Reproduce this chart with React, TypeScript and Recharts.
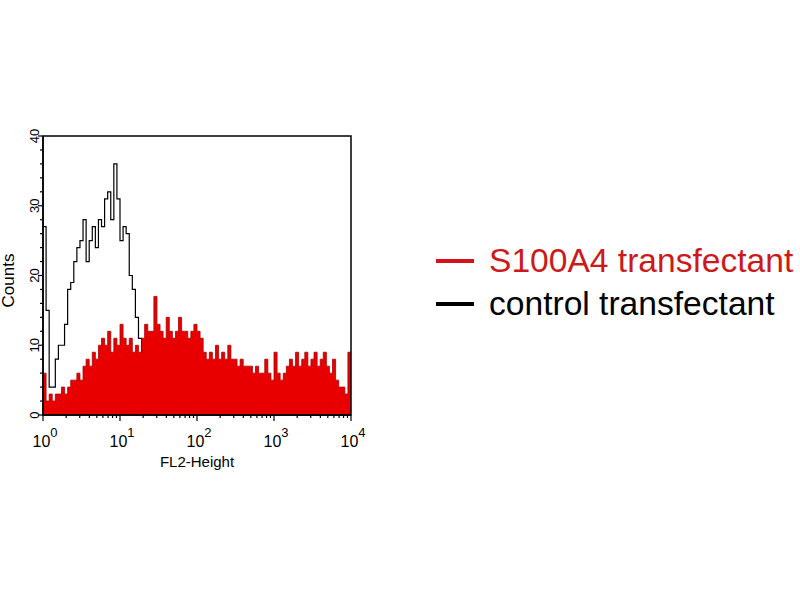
import { ComposedChart, Area, Line, XAxis, YAxis, ReferenceArea, Legend } from "recharts";

// 100 log-spaced channels over 4 decades (25 per decade)
const channelsPerDecade = 25;

const s100a4Counts = [
  6, 2, 3, 2, 3, 3, 4, 3, 4, 5,
  5, 6, 5, 7, 8, 7, 9, 8, 10, 11,
  10, 12, 9, 11, 10, 13, 11, 10, 11, 9,
  10, 9, 11, 13, 12, 12, 17, 13, 12, 11,
  14, 12, 11, 12, 14, 12, 12, 11, 12, 13,
  12, 11, 9, 8, 9, 8, 10, 8, 9, 8,
  10, 8, 8, 7, 8, 7, 7, 7, 6, 7,
  6, 6, 8, 6, 5, 9, 6, 5, 6, 7,
  8, 7, 9, 7, 8, 9, 7, 8, 9, 7,
  8, 9, 7, 6, 8, 5, 4, 4, 3, 9,
];

const controlCounts = [
  27, 15, 4, 4, 8, 10, 10, 13, 18, 19,
  22, 24, 25, 28, 22, 25, 27, 24, 28, 27,
  31, 32, 28, 36, 31, 25, 27, 26, 20, 18,
  14, 11, 8, 6, 5, 4, 3, 3, 2, 2,
  2, 1, 1, 1, 1, 1, 1, 0, 1, 0,
  0, 0, 0, 0, 0, 0, 0, 0, 0, 0,
  0, 0, 0, 0, 0, 0, 0, 0, 0, 0,
  0, 0, 0, 0, 0, 0, 0, 0, 0, 0,
  0, 0, 0, 0, 0, 0, 0, 0, 0, 0,
  0, 0, 0, 0, 0, 0, 0, 0, 0, 0,
];

const seriesNames = ["S100A4 transfectant", "control transfectant"];
const fillRed = "#e80000";
const legendLineColors = ["#d4141c", "#000000"];
const legendTextColors = ["#cc1a1a", "#000000"];

const yTicks = [0, 2, 4, 6, 8, 10, 12, 14, 16, 18, 20, 22, 24, 26, 28, 30, 32, 34, 36, 38, 40];
const decades = [1, 10, 100, 1000, 10000];

const xTicks: number[] = [];
decades.forEach((d, i) => {
  if (i === decades.length - 1) {
    xTicks.push(d);
    return;
  }
  for (let m = 1; m <= 9; m++) xTicks.push(d * m);
});

// bin edges; last edge repeats the final channel so the step reaches 10^4
const data = s100a4Counts.map((v, i) => ({
  x: Math.pow(10, i / channelsPerDecade),
  s100a4: v,
  control: controlCounts[i],
}));
data.push({
  x: 10000,
  s100a4: s100a4Counts[s100a4Counts.length - 1],
  control: controlCounts[controlCounts.length - 1],
});

const font = '"Liberation Sans", Arial, sans-serif';

const XTick = (props: any) => {
  const { x, y, payload } = props;
  const v = payload.value;
  const exp = Math.round(Math.log10(v));
  const major = Math.abs(Math.pow(10, exp) - v) < 1e-6;
  return (
    <g>
      <line x1={x} x2={x} y1={y} y2={y + (major ? 6 : 3)} stroke="#000" strokeWidth={1.2} />
      {major && (
        <text x={x + 2} y={y + 32} textAnchor="middle" fontSize={16} fontFamily={font} fill="#000">
          10
          <tspan dy={-10} fontSize={13}>{exp}</tspan>
        </text>
      )}
    </g>
  );
};

const YTick = (props: any) => {
  const { x, y, payload } = props;
  const major = payload.value % 10 === 0;
  return (
    <g>
      <line x1={x - (major ? 5 : 3)} x2={x} y1={y} y2={y} stroke="#000" strokeWidth={1.2} />
      {major && (
        <text
          x={x - 4}
          y={y}
          transform={`rotate(-90 ${x - 4} ${y})`}
          textAnchor="middle"
          fontSize={13}
          fontFamily={font}
          fill="#000"
        >
          {payload.value}
        </text>
      )}
    </g>
  );
};

const CountsLabel = (props: any) => {
  const { viewBox } = props;
  const cx = 14;
  const cy = viewBox.y + viewBox.height / 2 + 5;
  return (
    <text x={cx} y={cy} transform={`rotate(-90 ${cx} ${cy})`} textAnchor="middle" fontSize={17} fontFamily={font} fill="#000">
      Counts
    </text>
  );
};

const HeightLabel = (props: any) => {
  const { viewBox } = props;
  return (
    <text x={viewBox.x + viewBox.width / 2} y={viewBox.y + 52} textAnchor="middle" fontSize={15} fontFamily={font} fill="#000">
      FL2-Height
    </text>
  );
};

const LegendBox = () => (
  <div style={{ fontFamily: font }}>
    {seriesNames.map((name, i) => (
      <div key={name} style={{ display: "flex", alignItems: "center", height: 43 }}>
        <div style={{ width: 38, height: 4, background: legendLineColors[i] }} />
        <span style={{ marginLeft: 15, fontSize: 33.6, color: legendTextColors[i], whiteSpace: "nowrap" }}>
          {name}
        </span>
      </div>
    ))}
  </div>
);

export default function App() {
  return (
    <div style={{ position: "absolute", left: 0, top: 0, width: 800, height: 600, background: "#fff" }}>
      <ComposedChart
        width={800}
        height={600}
        data={data}
        margin={{ top: 136, right: 449, bottom: 145, left: 3 }}
      >
        <XAxis
          dataKey="x"
          type="number"
          scale="log"
          domain={[1, 10000]}
          ticks={xTicks}
          interval={0}
          allowDataOverflow
          height={40}
          tickLine={false}
          tickSize={0}
          tickMargin={0}
          axisLine={{ stroke: "#000", strokeWidth: 1.5 }}
          tick={<XTick />}
          label={<HeightLabel />}
        />
        <YAxis
          type="number"
          domain={[0, 40]}
          ticks={yTicks}
          interval={0}
          width={40}
          tickLine={false}
          tickSize={0}
          tickMargin={0}
          axisLine={{ stroke: "#000", strokeWidth: 1.5 }}
          tick={<YTick />}
          label={<CountsLabel />}
        />
        <Line
          dataKey="control"
          name={seriesNames[1]}
          type="stepAfter"
          stroke="#000"
          strokeWidth={1.2}
          dot={false}
          isAnimationActive={false}
          zIndex={50}
        />
        <Area
          dataKey="s100a4"
          name={seriesNames[0]}
          type="stepAfter"
          stroke="#a80000"
          strokeWidth={0.8}
          fill={fillRed}
          fillOpacity={1}
          baseValue={0}
          isAnimationActive={false}
          zIndex={100}
        />
        <ReferenceArea x1={1} x2={10000} y1={0} y2={40} fill="none" stroke="#000" strokeWidth={1.5} ifOverflow="visible" />
        <Legend
          layout="vertical"
          align="center"
          verticalAlign="middle"
          content={<LegendBox />}
          wrapperStyle={{ left: 436, top: 239, width: 364, height: 86 }}
        />
      </ComposedChart>
    </div>
  );
}
